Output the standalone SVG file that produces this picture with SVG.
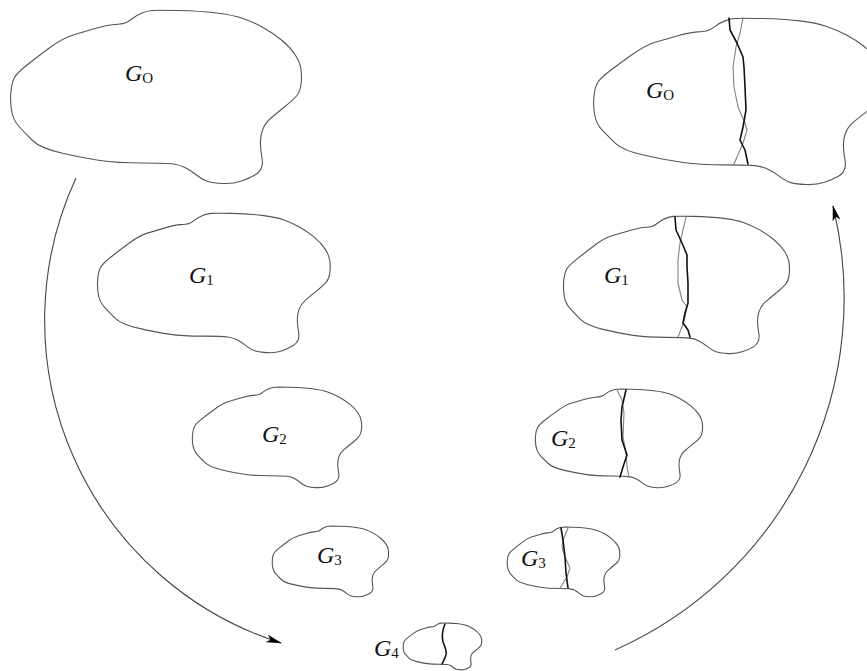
<svg xmlns="http://www.w3.org/2000/svg" xmlns:xlink="http://www.w3.org/1999/xlink" width="867" height="671" viewBox="0 0 867 671">
<style>
.blob{fill:none;stroke:#555;stroke-width:1.1;stroke-linejoin:round}
#shape{vector-effect:non-scaling-stroke}
.dk{fill:none;stroke:#111;stroke-width:1.6;stroke-linejoin:round;stroke-linecap:round}
.lt{fill:none;stroke:#808080;stroke-width:1.1;stroke-linejoin:round;stroke-linecap:round}
.arc{fill:none;stroke:#444;stroke-width:1.1}
.g{font-family:"Liberation Serif","Times New Roman",serif;font-style:italic;font-size:24px;fill:#111}
.s{font-style:normal;font-size:15px}
</style>
<defs>
<path id="shape" vector-effect="non-scaling-stroke" d="M51.5,143 Q30,138 22.5,130.5 Q15,123 9,116.5 Q3,110 1.5,100 Q0,90 1,81 Q2,72 4.5,67.5 Q7,63 17,55 Q27,47 40,37.5 Q53,28 63,25 Q73,22 85,18.5 Q97,15 104.5,14.5 Q112,14 115,13 Q118,12 122.5,8.5 Q127,5 132,3 Q137,1 142,0.5 Q147,0 168.5,0.5 Q190,1 206.5,3 Q223,5 233,8.5 Q243,12 253,17.5 Q263,23 271.5,30 Q280,37 285,44.5 Q290,52 291,59.5 Q292,67 291,74.5 Q290,82 286.5,86 Q283,90 275,96.5 Q267,103 261,108 Q255,113 252.5,120 Q250,127 250.5,135 Q251,143 252,148 Q253,153 251.5,157.5 Q250,162 245,165 Q240,168 231.5,171 Q223,174 213,173.5 Q203,173 198,171.5 Q193,170 186.5,165 Q180,160 175,157.5 Q170,155 163.5,154 Q157,153 132,153 Q107,153 90,150.5 Q73,148 51.5,143 Z"/>
<marker id="ah" viewBox="0 0 16 8" refX="15" refY="4" markerWidth="16" markerHeight="8" markerUnits="userSpaceOnUse" orient="auto">
<path d="M0,0 L16,4 L0,8 L4,4 Z" fill="#000"/>
</marker>
</defs>

<g id="connectors">
<path class="arc" d="M76,178 A338.5,338.5 0 0 0 281,643" marker-end="url(#ah)"/>
<path class="arc" d="M615,650 A385,385 0 0 0 833,206" marker-end="url(#ah)"/>
</g>

<g id="G0-left">
<use xlink:href="#shape" class="blob" transform="translate(10,10)"/>
<text class="g" x="125" y="81">G<tspan class="s" dy="2">O</tspan></text>
</g>
<g id="G1-left">
<use xlink:href="#shape" class="blob" transform="translate(97,213) scale(0.8,0.805)"/>
<text class="g" x="189" y="283">G<tspan class="s" dy="2">1</tspan></text>
</g>
<g id="G2-left">
<use xlink:href="#shape" class="blob" transform="translate(192,387) scale(0.582,0.58)"/>
<text class="g" x="262" y="442">G<tspan class="s" dy="2">2</tspan></text>
</g>
<g id="G3-left">
<use xlink:href="#shape" class="blob" transform="translate(272,526) scale(0.40,0.408)"/>
<text class="g" x="317" y="563">G<tspan class="s" dy="2">3</tspan></text>
</g>
<g id="G4">
<use xlink:href="#shape" class="blob" transform="translate(403,623) scale(0.27,0.27)"/>
<path class="dk" d="M445,624 Q441,633 443,642 Q447,651 446,655 Q445,658 442,664"/>
<text class="g" x="374" y="656">G<tspan class="s" dy="2">4</tspan></text>
</g>

<g id="G0-right">
<use xlink:href="#shape" class="blob" transform="translate(593,18) scale(1,0.96)"/>
<path class="lt" d="M743,18 L740,33 L736,47 L733,67 L734,87 L738,107 L745,123 L747,130 L743,143 L737,157 L734,164"/>
<path class="dk" d="M729,18 L730,30 L737,43 L743,57 L744,67 L745,87 L746,110 L743,127 L740,140 L745,150 L748,164"/>
<text class="g" x="646" y="98">G<tspan class="s" dy="2">O</tspan></text>
</g>
<g id="G1-right">
<use xlink:href="#shape" class="blob" transform="translate(563,216) scale(0.777,0.793)"/>
<path class="lt" d="M686,217 L683,230 L680,243 L678,260 L678,283 L682,300 L687,307 L685,317 L682,327 L678,337"/>
<path class="dk" d="M675,217 L676,230 L682,243 L687,255 L687,267 L688,283 L688,303 L685,313 L683,323 L688,330 L690,337"/>
<text class="g" x="604" y="283">G<tspan class="s" dy="2">1</tspan></text>
</g>
<g id="G2-right">
<use xlink:href="#shape" class="blob" transform="translate(535,389) scale(0.575,0.569)"/>
<path class="lt" d="M617,390 L622,400 L624,413 L623,437 L626,453 L627,467 L629,477"/>
<path class="dk" d="M626,390 L622,407 L621,420 L622,440 L627,455 L623,467 L620,477"/>
<text class="g" x="551" y="446">G<tspan class="s" dy="2">2</tspan></text>
</g>
<g id="G3-right">
<use xlink:href="#shape" class="blob" transform="translate(507,527) scale(0.387,0.402)"/>
<path class="lt" d="M568,528 L563,540 L562,547 L565,557 L570,568 L567,577 L560,588"/>
<path class="dk" d="M561,528 L563,540 L565,557 L566,573 L568,588"/>
<text class="g" x="521" y="566">G<tspan class="s" dy="2">3</tspan></text>
</g>
</svg>
